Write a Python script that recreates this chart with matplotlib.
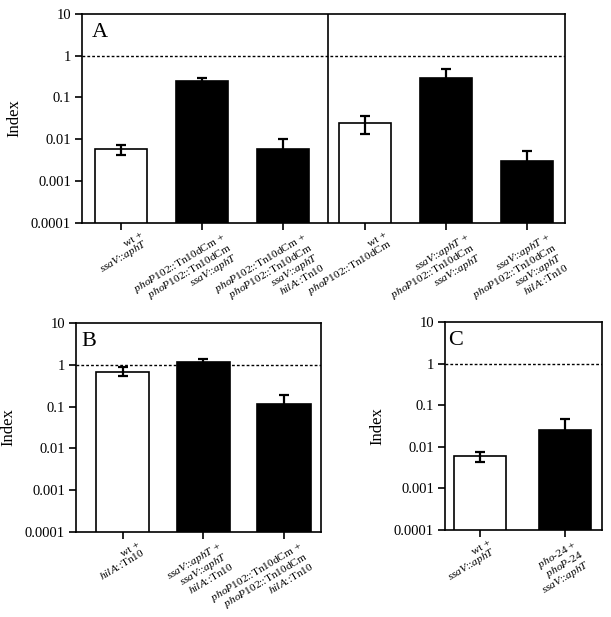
import matplotlib
matplotlib.use('Agg')
import matplotlib.pyplot as plt
import numpy as np

plt.rcParams['font.family'] = 'Liberation Serif'
plt.rcParams['mathtext.fontset'] = 'custom'
plt.rcParams['mathtext.rm'] = 'Liberation Serif'
plt.rcParams['mathtext.it'] = 'Liberation Serif:italic'

SSAV = r'$\mathit{ssaV}$::$\mathit{aphT}$'
PHOP = r'$\mathit{phoP102}$::Tn$\mathit{10}$dCm'
HILA = r'$\mathit{hilA}$::Tn$\mathit{10}$'

# panel A
a_labels = ['wt +\n' + SSAV,
            PHOP + ' +\n' + PHOP + '\n' + SSAV,
            PHOP + ' +\n' + PHOP + '\n' + SSAV + '\n' + HILA,
            'wt +\n' + PHOP,
            SSAV + ' +\n' + PHOP + '\n' + SSAV,
            SSAV + ' +\n' + PHOP + '\n' + SSAV + '\n' + HILA]
a_values = [0.0058, 0.245, 0.0060, 0.025, 0.30, 0.0030]
a_err_hi = [0.0073, 0.30, 0.0099, 0.037, 0.48, 0.0051]
a_err_lo = [0.0042, 0.20, 0.0040, 0.0135, 0.20, 0.0020]
a_filled = [False, True, True, False, True, True]

# panel B
b_labels = ['wt +\n' + HILA,
            SSAV + ' +\n' + SSAV + '\n' + HILA,
            PHOP + ' +\n' + PHOP + '\n' + HILA]
b_values = [0.68, 1.18, 0.115]
b_err_hi = [0.91, 1.40, 0.19]
b_err_lo = [0.55, 1.00, 0.08]
b_filled = [False, True, True]

# panel C
c_labels = ['wt +\n' + SSAV,
            r'$\mathit{pho}$-$\mathit{24}$ +' + '\n' + r'$\mathit{phoP}$-$\mathit{24}$' + '\n' + SSAV]
c_values = [0.0059, 0.026]
c_err_hi = [0.0075, 0.047]
c_err_lo = [0.0043, 0.015]
c_filled = [False, True]

yticks = [1e-4, 1e-3, 1e-2, 1e-1, 1, 10]
ytick_labels = ['0.0001', '0.001', '0.01', '0.1', '1', '10']


def draw_panel(ax, letter, labels, values, hi, lo, filled, xlim, width=0.64, shift_px=12):
    x = np.arange(len(values))
    vals = np.array(values)
    colors = ['black' if f else 'white' for f in filled]
    ax.bar(x, vals, width=width, color=colors, edgecolor='black', linewidth=1.2, zorder=2)
    yerr = [vals - np.array(lo), np.array(hi) - vals]
    ax.errorbar(x, vals, yerr=yerr, fmt='none', ecolor='black', elinewidth=1.6,
                capsize=3.5, capthick=1.6, zorder=3)
    ax.axhline(1, color='black', lw=1, ls=(0, (2, 1.5)), zorder=1)
    ax.set_yscale('log')
    ax.set_ylim(1e-4, 10)
    ax.set_xlim(*xlim)
    ax.set_yticks(yticks)
    ax.set_yticklabels(ytick_labels, fontsize=10.5)
    ax.minorticks_off()
    ax.set_xticks(x)
    ax.set_xticklabels([])
    # rotated category labels, nudged right of their ticks like the original figure
    for xi, lab in zip(x, labels):
        ax.annotate(lab, xy=(xi, 0), xycoords=('data', 'axes fraction'),
                    xytext=(shift_px, -8), textcoords='offset pixels',
                    fontsize=8.2, rotation=31, ha='right', va='top',
                    rotation_mode='anchor', multialignment='right', linespacing=0.88)
    ax.tick_params(axis='both', direction='out', length=5, width=1.2)
    ax.tick_params(axis='y', pad=3)
    for s in ax.spines.values():
        s.set_linewidth(1.2)
    ax.set_ylabel('Index', fontsize=12, labelpad=6)
    ax.text(0.02, 0.955, letter, transform=ax.transAxes, fontsize=16, va='top', ha='left')


fig = plt.figure(figsize=(6.11, 6.17), dpi=100)

ax_a = fig.add_axes([0.1342, 0.639, 0.7905, 0.3383])
draw_panel(ax_a, 'A', a_labels, a_values, a_err_hi, a_err_lo, a_filled, (-0.478, 5.466), shift_px=19)
ax_a.axvline(2.55, color='black', lw=1.2)

ax_b = fig.add_axes([0.1244, 0.1378, 0.401, 0.3387])
draw_panel(ax_b, 'B', b_labels, b_values, b_err_hi, b_err_lo, b_filled, (-0.58, 2.46), width=0.66,
           shift_px=14)

ax_c = fig.add_axes([0.7283, 0.141, 0.257, 0.337])
draw_panel(ax_c, 'C', c_labels, c_values, c_err_hi, c_err_lo, c_filled, (-0.41, 1.435), width=0.62,
           shift_px=8)

fig.savefig('out.png', dpi=100)
